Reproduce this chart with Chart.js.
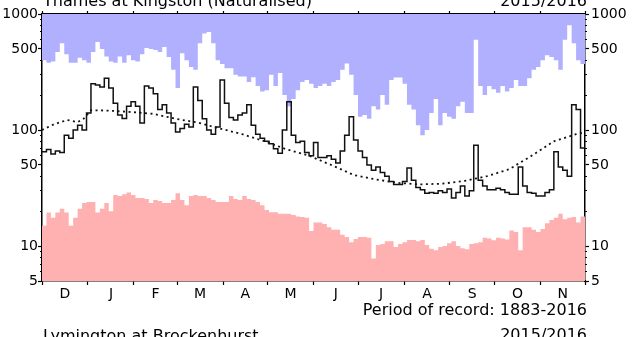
<!DOCTYPE html>
<html>
<head>
<meta charset="utf-8">
<script src="https://cdn.jsdelivr.net/npm/chart.js@4.4.1/dist/chart.umd.min.js"></script>
<style>
    html, body { margin: 0; padding: 0; background: #fff; overflow: hidden; }
    #wrap { position: relative; width: 632px; height: 337px; font-family: 'DejaVu Sans', sans-serif; font-size: 16px; line-height: 16px; color: #000; }
    .label { position: absolute; white-space: nowrap; }
</style>
</head>
<body>
<div id="wrap">
    <canvas id="flowChart" width="632" height="337"></canvas>
    <div class="label" style="left:43px; top:-7px">Thames at Kingston (Naturalised)</div>
    <div class="label" style="right:45px; top:-7px">2015/2016</div>
    <div class="label" style="right:45px; top:302px">Period of record: 1883-2016</div>
    <div class="label" style="left:43px; top:328px">Lymington at Brockenhurst</div>
    <div class="label" style="right:45px; top:327px">2015/2016</div>
</div>
<script>
// Dec 2015 - Nov 2016, flows in m3/s
const monthLabels = ['D', 'J', 'F', 'M', 'A', 'M', 'J', 'J', 'A', 'S', 'O', 'N'];
const monthDays = [31, 31, 29, 31, 30, 31, 30, 31, 31, 30, 31, 30];
const yMajorTicks = [5, 10, 50, 100, 500, 1000];
const yMinorTicks = [6, 7, 8, 9, 20, 30, 40, 60, 70, 80, 90, 200, 300, 400, 600, 700, 800, 900];

// one value every third day from 1 Dec
const stepDays = 3;

const maxFlow = [
    400, 380, 390, 470, 560, 450, 380, 380, 420, 400,
    380, 470, 575, 500, 430, 390, 380, 430, 380, 440,
    400, 390, 450, 510, 500, 490, 470, 520, 425, 330,
    230, 460, 400, 350, 330, 560, 680, 700, 560, 400,
    370, 340, 340, 300, 290, 290, 260, 285, 240, 215,
    220, 300, 240, 310, 200, 160, 185, 220, 260, 270,
    250, 230, 240, 250, 240, 260, 270, 330, 375, 300,
    200, 130, 135, 125, 160, 150, 200, 165, 270, 283,
    283, 250, 165, 150, 110, 90, 100, 140, 185, 110,
    140, 130, 125, 160, 175, 140, 140, 600, 240, 200,
    240, 225, 210, 240, 215, 230, 270, 240, 240, 280,
    330, 350, 400, 440, 425, 400, 330, 600, 800, 560,
    400, 370,
];

const minFlow = [
    15, 19.5, 17.5, 19.5, 21, 19.5, 15, 17.5, 21, 23.5,
    24, 24, 19.5, 21, 23.5, 20, 27.5, 27, 28, 29,
    27.5, 26, 26, 25.5, 23.5, 25, 24.5, 23.5, 23.5, 25,
    28.5, 25, 22.5, 27, 27.5, 27, 27, 26, 25, 24,
    24, 24, 27, 25.5, 25, 27, 25.5, 25, 24, 22.5,
    20.5, 19.6, 19.6, 19, 19, 19, 18.5, 18, 17.8, 17.5,
    13.5, 16, 16, 15.5, 14.5, 13.8, 13.8, 12.5, 12, 10.8,
    11.5, 12, 12, 11.8, 7.8, 10.2, 10.4, 11, 11, 9.8,
    10.4, 10.8, 11.3, 11.3, 11, 11.3, 10.2, 9.5, 9.2, 9.8,
    10, 10.6, 11, 10, 9.6, 9.4, 10.4, 10.6, 10.8, 11.8,
    11.6, 11.2, 11.8, 11.6, 11.4, 13.6, 13.2, 9.2, 14.5, 14.5,
    13.8, 13.2, 14, 15.7, 16.8, 17.5, 19, 17, 17.5, 17.8,
    16, 18,
];

const dailyFlow = [
    65, 68, 62, 66, 64, 90, 85, 100, 110, 100,
    140, 250, 245, 235, 280, 230, 170, 135, 126, 160,
    175, 160, 115, 240, 230, 205, 150, 165, 140, 115,
    96, 103, 112, 106, 235, 180, 125, 100, 92, 106,
    270, 170, 128, 122, 135, 140, 165, 110, 92, 85,
    80, 76, 69, 63, 100, 175, 90, 78, 80, 64,
    60, 78, 58, 58, 60, 56, 52, 66, 90, 130,
    82, 66, 58, 50, 45, 48, 43, 40, 36, 34,
    34, 36, 47, 37, 32, 30.5, 28.5, 29, 28.5, 30,
    29, 31, 26, 29, 33, 27, 30, 74, 37, 33,
    30.5, 30.5, 31.5, 30.5, 29, 28, 28, 48, 33, 29,
    28.5, 27, 27, 29, 30.5, 65, 48, 45, 40, 165,
    150, 70,
];

const meanDays = [0, 8, 17, 24, 28, 33, 45, 60, 75, 90, 105, 120, 135, 150, 165, 180, 195, 210, 225, 240, 255, 270, 285, 300, 315, 330, 345, 360, 366];
const meanFlow = [100, 112, 122, 117, 125, 148, 147, 143, 138, 125, 116, 103, 92, 80, 68, 60, 50, 41, 37.5, 35, 34, 34.5, 36.5, 40, 46, 60, 80, 92, 96];

window.addEventListener('DOMContentLoaded', () => {
    const canvas = document.getElementById('flowChart');

    const monthStarts = [0];
    monthDays.forEach((d) => monthStarts.push(monthStarts[monthStarts.length - 1] + d));
    const monthMids = monthLabels.map((_, i) => (monthStarts[i] + monthStarts[i + 1]) / 2);
    const totalDays = monthStarts[monthStarts.length - 1];

    const toSteps = (values) => {
        const pts = values.map((v, i) => ({ x: i * stepDays, y: v }));
        pts.push({ x: totalDays, y: values[values.length - 1] });
        return pts;
    };

    Chart.defaults.font.family = "'DejaVu Sans', sans-serif";
    Chart.defaults.font.size = 14;
    Chart.defaults.color = '#000';

    const logAxis = (position, weight, ticks, width, showLabels) => ({
        type: 'logarithmic',
        position,
        weight,
        min: 5,
        max: 1000,
        afterBuildTicks: (scale) => {
            scale.ticks = ticks.map((v) => ({ value: v }));
        },
        afterFit: (scale) => {
            scale.width = width;
        },
        ticks: {
            display: showLabels,
            autoSkip: false,
            padding: position === 'left' ? 0 : 2,
            callback: (value) => String(value),
        },
        grid: {
            drawOnChartArea: false,
            tickLength: showLabels ? 4 : 2,
            tickColor: '#000',
            tickWidth: 1.2,
        },
        border: {
            display: showLabels,
            color: '#000',
            width: 1.5,
        },
    });

    const chart = new Chart(canvas, {
        type: 'line',
        data: {
            datasets: [
                {
                    label: 'Daily flow',
                    data: toSteps(dailyFlow),
                    stepped: true,
                    borderColor: '#111',
                    borderWidth: 1.5,
                    pointRadius: 0,
                    fill: false,
                    order: 1,
                },
                {
                    label: 'Long-term mean',
                    data: meanDays.map((d, i) => ({ x: d, y: meanFlow[i] })),
                    borderColor: '#111',
                    borderWidth: 1.8,
                    borderDash: [2, 3.5],
                    pointRadius: 0,
                    fill: false,
                    order: 2,
                },
                {
                    label: 'Maximum',
                    data: toSteps(maxFlow),
                    stepped: true,
                    borderWidth: 0,
                    borderColor: 'rgba(0,0,0,0)',
                    backgroundColor: '#b0b0ff',
                    pointRadius: 0,
                    fill: 'end',
                    order: 3,
                },
                {
                    label: 'Minimum',
                    data: toSteps(minFlow),
                    stepped: true,
                    borderWidth: 0,
                    borderColor: 'rgba(0,0,0,0)',
                    backgroundColor: '#ffb0b0',
                    pointRadius: 0,
                    fill: 'start',
                    order: 4,
                },
            ],
        },
        options: {
            responsive: false,
            animation: false,
            events: [],
            layout: {
                padding: { top: 11, left: 0, right: 0, bottom: 0 },
            },
            scales: {
                x: {
                    type: 'linear',
                    position: 'bottom',
                    min: 0,
                    max: totalDays,
                    afterBuildTicks: (scale) => {
                        scale.ticks = monthStarts.concat(monthMids)
                            .sort((a, b) => a - b)
                            .map((v) => ({ value: v }));
                    },
                    afterFit: (scale) => {
                        scale.height = 56;
                    },
                    ticks: {
                        autoSkip: false,
                        maxRotation: 0,
                        padding: 1,
                        callback: (value) => {
                            const i = monthMids.indexOf(value);
                            return i >= 0 ? monthLabels[i] : '';
                        },
                    },
                    grid: {
                        drawOnChartArea: false,
                        tickLength: 4,
                        tickWidth: 1.2,
                        tickColor: (ctx) => (ctx.tick && monthStarts.includes(ctx.tick.value) ? '#000' : 'rgba(0,0,0,0)'),
                    },
                    border: { color: '#000', width: 1.5 },
                },
                xTop: {
                    type: 'linear',
                    position: 'top',
                    min: 0,
                    max: totalDays,
                    afterBuildTicks: (scale) => {
                        scale.ticks = monthStarts.map((v) => ({ value: v }));
                    },
                    afterFit: (scale) => {
                        scale.height = 3;
                    },
                    ticks: { display: false },
                    grid: {
                        drawOnChartArea: false,
                        tickLength: 3,
                        tickWidth: 1.2,
                        tickColor: '#000',
                    },
                    border: { color: '#000', width: 1.5 },
                },
                y: logAxis('left', 1, yMajorTicks, 42, true),
                yMinor: logAxis('left', 0, yMinorTicks, 0, false),
                y2: logAxis('right', 1, yMajorTicks, 47, true),
                y2Minor: logAxis('right', 0, yMinorTicks, 0, false),
            },
            plugins: {
                legend: { display: false },
                tooltip: { enabled: false },
            },
        },
    });

    return chart;
});
</script>
</body>
</html>
